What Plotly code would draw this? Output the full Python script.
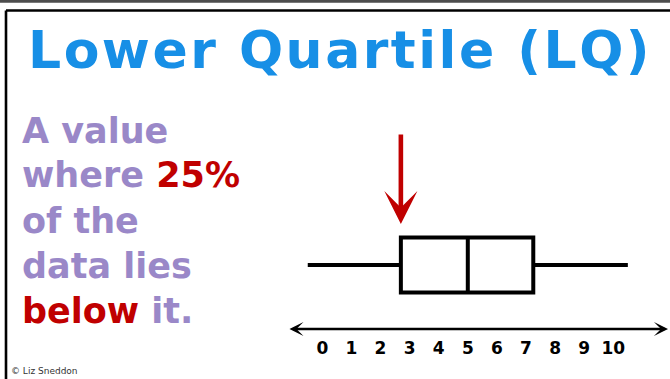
import plotly.graph_objects as go

# Five-number summary shown by the box plot
whisker_low = -0.5
lower_quartile = 2.7
median_value = 5.0
upper_quartile = 7.25
whisker_high = 10.5

# Number line
tick_values = list(range(0, 11))
tick_labels = [str(v) for v in tick_values]
number_line_ends = [-1.18, 11.88]

# Text content
title_text = "Lower Quartile (LQ)"
PURPLE = "#9A88C8"
RED = "#C00000"
BLUE = "#178FE6"
body_lines = [
    "A value",
    f"where <span style='color:{RED}'>25%</span>",
    "of the",
    "data lies",
    f"<span style='color:{RED}'>below</span> it.",
]
credit_text = "© Liz Sneddon"

W, H = 670, 379
BOX_Y = 2.0
FONT = "DejaVu Sans"

fig = go.Figure()

fig.add_trace(go.Box(
    orientation="h",
    y=[BOX_Y],
    lowerfence=[whisker_low],
    q1=[lower_quartile],
    median=[median_value],
    q3=[upper_quartile],
    upperfence=[whisker_high],
    width=1.72,
    whiskerwidth=0,
    fillcolor="white",
    line=dict(color="black", width=4),
    boxpoints=False,
    hoverinfo="skip",
))

annotations = []

# Double-headed number line
annotations.append(dict(
    x=number_line_ends[1], y=0, ax=number_line_ends[0], ay=0,
    xref="x", yref="y", axref="x", ayref="y",
    text="", showarrow=True, arrowside="end+start",
    arrowhead=3, startarrowhead=3, arrowsize=0.9, startarrowsize=0.9,
    arrowwidth=2.6, arrowcolor="black", standoff=0, startstandoff=0,
))

# Red arrow pointing at the lower quartile
annotations.append(dict(
    x=lower_quartile, y=3.28, ax=lower_quartile, ay=6.125,
    xref="x", yref="y", axref="x", ayref="y",
    text="", showarrow=True, arrowhead=3, arrowsize=1.2,
    arrowwidth=4.6, arrowcolor=RED, standoff=0,
))

# Title
annotations.append(dict(
    x=340 / W, y=1 - 50 / H, xref="paper", yref="paper",
    text=f"<span style='letter-spacing:2.5px'>{title_text}</span>",
    showarrow=False, xanchor="center", yanchor="middle",
    font=dict(family=FONT, size=52, color=BLUE, weight="bold"),
))

# Left-hand definition text
baselines = [142.7, 187.5, 232.5, 277.5, 322.5]
for line, base in zip(body_lines, baselines):
    annotations.append(dict(
        x=20 / W, y=1 - (base - 12) / H, xref="paper", yref="paper",
        text=line, showarrow=False, xanchor="left", yanchor="middle",
        font=dict(family=FONT, size=35, color=PURPLE, weight="bold"),
    ))

# Credit
annotations.append(dict(
    x=9 / W, y=1 - 371 / H, xref="paper", yref="paper",
    text=credit_text, showarrow=False, xanchor="left", yanchor="middle",
    font=dict(family=FONT, size=9, color="#333333"),
))

shapes = [
    # dark band along the top edge
    dict(type="rect", xref="paper", yref="paper", x0=0, x1=1,
         y0=1 - 2.8 / H, y1=1, fillcolor="#4d4d4d", line=dict(width=0)),
    # frame: top and left rules
    dict(type="line", xref="paper", yref="paper", x0=6 / W, x1=1,
         y0=1 - 10.5 / H, y1=1 - 10.5 / H, line=dict(color="black", width=2.6)),
    dict(type="line", xref="paper", yref="paper", x0=6 / W, x1=6 / W,
         y0=0, y1=1 - 10.5 / H, line=dict(color="black", width=2.6)),
]

px_per_unit = 29.1
zero_px = 322.3
fig.update_layout(
    width=W, height=H,
    margin=dict(l=0, r=0, t=0, b=0),
    paper_bgcolor="white", plot_bgcolor="white",
    showlegend=False,
    annotations=annotations,
    shapes=shapes,
    xaxis=dict(
        domain=[0, 1],
        range=[-zero_px / px_per_unit, (W - zero_px) / px_per_unit],
        tickvals=tick_values, ticktext=tick_labels,
        ticks="outside", ticklen=4, tickcolor="rgba(0,0,0,0)",
        showgrid=False, zeroline=False, showline=False,
        tickfont=dict(family=FONT, size=17, color="black", weight="bold"),
        fixedrange=True,
    ),
    yaxis=dict(
        domain=[50 / H, 1],
        range=[0, 329 / 32],
        showticklabels=False, showgrid=False, zeroline=False, showline=False,
        ticks="", fixedrange=True,
    ),
)

fig.write_html("out.html")
